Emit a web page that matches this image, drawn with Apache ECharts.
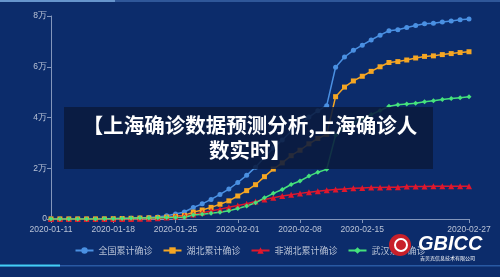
<!DOCTYPE html>
<html><head><meta charset="utf-8">
<script src="https://cdn.jsdelivr.net/npm/echarts@6/dist/echarts.min.js"></script>
<style>html,body{margin:0;padding:0;background:#0c2c6b;}#c{width:500px;height:277px;}</style>
</head><body><div id="c"></div>
<script>
const dates = ['2020-01-11','2020-01-12','2020-01-13','2020-01-14','2020-01-15','2020-01-16','2020-01-17','2020-01-18','2020-01-19','2020-01-20','2020-01-21','2020-01-22','2020-01-23','2020-01-24','2020-01-25','2020-01-26','2020-01-27','2020-01-28','2020-01-29','2020-01-30','2020-01-31','2020-02-01','2020-02-02','2020-02-03','2020-02-04','2020-02-05','2020-02-06','2020-02-07','2020-02-08','2020-02-09','2020-02-10','2020-02-11','2020-02-12','2020-02-13','2020-02-14','2020-02-15','2020-02-16','2020-02-17','2020-02-18','2020-02-19','2020-02-20','2020-02-21','2020-02-22','2020-02-23','2020-02-24','2020-02-25','2020-02-26','2020-02-27'];
const national = [41,41,41,41,41,45,62,121,198,291,440,571,830,1287,1975,2744,4515,5974,7711,9692,11791,14380,17205,20438,24324,28018,31161,34546,37198,40171,42638,44653,59804,63851,66492,68500,70548,72436,74185,74576,75465,76288,76936,77150,77658,78064,78497,78824];
const hubei = [41,41,41,41,41,45,62,121,198,270,375,444,549,729,1052,1423,2714,3554,4586,5806,7153,9074,11177,13522,16678,19665,22112,24953,27100,29631,31728,33366,48206,51986,54406,56249,58182,59989,61682,62031,62662,63454,64084,64287,64786,65187,65596,65914];
const nonHubei = [0,0,0,0,0,0,0,0,0,21,65,127,281,558,923,1321,1801,2420,3125,3886,4638,5306,6028,6916,7646,8353,9049,9593,10098,10540,10910,11287,11598,11865,12086,12251,12366,12447,12503,12545,12803,12834,12852,12863,12872,12877,12901,12910];
const wuhan = [41,41,41,41,41,45,62,121,198,258,363,425,495,572,618,698,1590,1905,2261,2639,3215,4109,5142,6384,8351,10117,11618,13603,14982,16902,18454,19558,32994,35991,37914,39462,41152,42752,44412,45027,45346,45660,46201,46607,47071,47441,47824,48137];
const seriesNames = ['全国累计确诊','湖北累计确诊','非湖北累计确诊','武汉累计确诊'];
const yTicks = [0,20000,40000,60000,80000];
const titleLines = ['【上海确诊数据预测分析,上海确诊人','数实时】'];

const showIdx = (i) => (i % 7 === 0 && i !== 42) || i === dates.length - 1;
const chart = echarts.init(document.getElementById('c'));
const colors = ['#4a90e2','#f5a623','#e0172c','#45e27c'];
const symbols = ['circle','rect','triangle','diamond'];
const datas = [national, hubei, nonHubei, wuhan];
const labelColor = '#b9c3d6';
chart.setOption({
  backgroundColor: '#0c2c6b',
  animation: false,
  color: colors,
  grid: {left: 51, right: 31, top: 16, bottom: 58},
  legend: {
    bottom: 17, left: 'center', itemWidth: 18, itemHeight: 8, itemGap: 10,
    textStyle: {color: labelColor, fontSize: 9, fontFamily: 'Noto Sans CJK SC'},
    data: seriesNames
  },
  xAxis: {
    type: 'category', boundaryGap: false, data: dates,
    axisLine: {lineStyle: {color: '#8396bb', width: 1}},
    axisTick: {interval: (i) => showIdx(i), length: 4, lineStyle: {color: '#8396bb'}},
    axisLabel: {interval: (i) => showIdx(i), color: labelColor, fontSize: 8.5, fontFamily: 'Liberation Sans', margin: 6, showMaxLabel: true}
  },
  yAxis: {
    type: 'value', min: yTicks[0], max: yTicks[yTicks.length - 1], interval: yTicks[1] - yTicks[0],
    axisLine: {show: true, lineStyle: {color: '#8396bb'}},
    axisTick: {show: true, length: 4, lineStyle: {color: '#8396bb'}},
    splitLine: {show: false},
    axisLabel: {color: labelColor, fontSize: 8.5, fontFamily: 'Liberation Sans', margin: 4,
      formatter: v => v === 0 ? '0' : (v / 10000) + '万'}
  },
  series: seriesNames.map((n, k) => ({
    name: n, type: 'line', data: datas[k], symbol: symbols[k],
    showSymbol: true, showAllSymbol: true,
    symbolSize: k === 2 ? 6 : 5,
    lineStyle: {width: 1.5, color: colors[k]},
    itemStyle: {color: colors[k]}
  })),
  graphic: [
    {type: 'rect', left: 0, top: 0, shape: {width: 500, height: 2}, style: {fill: 'rgba(90,140,210,0.45)'}, z: 1},
    {type: 'rect', left: 0, top: 0, shape: {width: 115, height: 2}, style: {fill: 'rgba(140,190,240,0.6)'}, z: 1},
    {type: 'rect', left: 0, top: 265, shape: {width: 500, height: 1.5}, style: {fill: 'rgba(60,120,200,0.6)'}, z: 1},
    {type: 'rect', left: 0, top: 264.5, shape: {width: 60, height: 2}, style: {fill: 'rgba(70,220,255,0.9)'}, z: 1},
    {type: 'rect', left: 64, top: 107, shape: {width: 369, height: 62}, style: {fill: 'rgba(10,26,62,0.88)'}, z: 100},
    {type: 'text', left: 'center', top: 113, z: 101,
      style: {text: titleLines.join('\n'), fill: '#ffffff', font: 'bold 20.5px "Noto Sans CJK SC"', textAlign: 'center', lineHeight: 25}},
    {type: 'circle', shape: {cx: 400, cy: 245, r: 11}, style: {fill: '#c8202a'}, z: 100},
    {type: 'circle', shape: {cx: 401, cy: 245, r: 6}, style: {fill: 'none', stroke: '#ffffff', lineWidth: 2}, z: 101},
    {type: 'text', left: 418, top: 234, z: 101,
      style: {text: 'GBICC', fill: '#ffffff', font: 'italic bold 20px "Liberation Sans"'}},
    {type: 'text', left: 420, top: 256, z: 101,
      style: {text: '吉贝克信息技术有限公司', fill: '#ffffff', font: '5px "Noto Sans CJK SC"'}}
  ]
});
</script></body></html>
